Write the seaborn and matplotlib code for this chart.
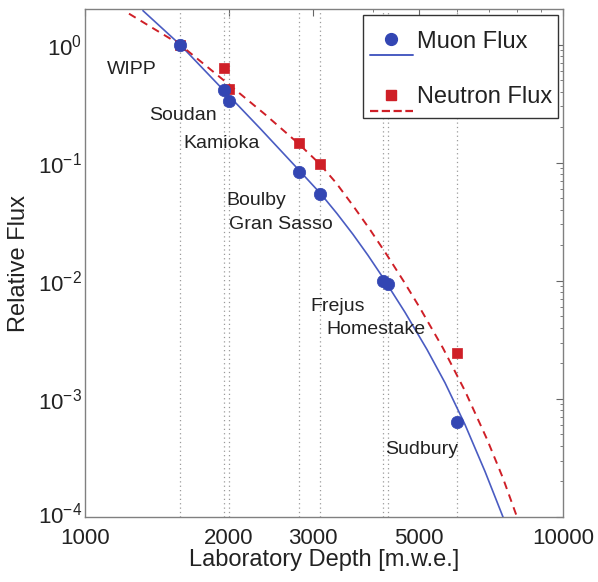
import numpy as np
import pandas as pd
import seaborn as sns
import matplotlib
matplotlib.use("Agg")
import matplotlib.pyplot as plt
import matplotlib.transforms as mtransforms
from matplotlib.lines import Line2D
from matplotlib.patches import Rectangle
from matplotlib.legend_handler import HandlerBase
from matplotlib.ticker import FixedLocator, NullFormatter, LogLocator

# ---------------- data ----------------
labs = ["WIPP", "Soudan", "Kamioka", "Boulby", "Gran Sasso", "Frejus", "Homestake", "Sudbury"]
depth = [1580, 1950, 2000, 2800, 3100, 4200, 4300, 6000]
muon_flux = [1.0, 0.415, 0.33, 0.084, 0.0545, 0.0100, 0.0094, 6.4e-4]
neutron_flux = [1.0, 0.63, 0.42, 0.147, 0.0966, np.nan, np.nan, 0.00243]

muon_curve_depth = [1322, 1580, 1916, 2323, 2791, 3117, 3367, 3636, 3908, 4202, 4671,
                    5194, 5664, 6237, 6868, 7490]
muon_curve_flux = [1.936, 1.0, 0.442, 0.1955, 0.0881, 0.0542, 0.03705, 0.02472, 0.01644,
                   0.01062, 0.005412, 0.002617, 0.00137, 6.06e-4, 2.43e-4, 1.0e-4]
neutron_curve_depth = [1236, 1580, 2011, 2380, 2791, 3087, 3350, 3636, 3947, 4283, 4649,
                       5022, 5610, 6237, 6934, 7490, 8013]
neutron_curve_flux = [1.826, 1.0, 0.4508, 0.2566, 0.1461, 0.099, 0.06767, 0.04329, 0.0271,
                      0.01651, 0.009807, 0.005872, 0.002689, 0.001168, 4.56e-4, 2.13e-4, 1.0e-4]

x_ticks = [1000, 2000, 3000, 5000, 10000]
x_ticklabels = ["1000", "2000", "3000", "5000", "10000"]
y_ticks = [1e-4, 1e-3, 1e-2, 1e-1, 1e0]
y_ticklabels = [r"$10^{-4}$", r"$10^{-3}$", r"$10^{-2}$", r"$10^{-1}$", r"$10^{0}$"]

# label positions (axes fraction)
label_pos = [(0.046, 0.880), (0.134, 0.791), (0.205, 0.736), (0.295, 0.624),
             (0.301, 0.575), (0.471, 0.415), (0.506, 0.370), (0.628, 0.132)]

BLUE_M = "#3346b3"
BLUE_L = "#4a5cc2"
RED = "#cf1f27"

sns.set_theme(style="white")
plt.rcParams['font.family'] = ['Liberation Sans', 'DejaVu Sans']
plt.rcParams['mathtext.fontset'] = 'custom'
plt.rcParams['mathtext.rm'] = 'Liberation Sans'
plt.rcParams['mathtext.it'] = 'Liberation Sans'

fig = plt.figure(figsize=(5.98, 5.82), dpi=100)
ax = fig.add_axes([85/598, 1-517/582, (563-85)/598, (517-9)/582])
ax.set_xscale("log")
ax.set_yscale("log")

for d in depth:
    ax.axvline(d, color="#9a9a9a", linestyle=(0, (1, 2.5)), linewidth=0.9, zorder=1)

pts = pd.DataFrame({"lab": labs, "depth": depth, "muon": muon_flux, "neutron": neutron_flux})
mc = pd.DataFrame({"depth": muon_curve_depth, "flux": muon_curve_flux})
nc = pd.DataFrame({"depth": neutron_curve_depth, "flux": neutron_curve_flux})

sns.lineplot(data=mc, x="depth", y="flux", ax=ax, color=BLUE_L, linewidth=1.2,
             sort=False, estimator=None, zorder=3)
sns.lineplot(data=nc, x="depth", y="flux", ax=ax, color=RED, linewidth=1.4,
             sort=False, estimator=None, zorder=3)
ax.lines[-1].set_linestyle((0, (4, 3)))
sns.scatterplot(data=pts, x="depth", y="neutron", ax=ax, marker="s", s=55, color=RED,
                edgecolor=RED, linewidth=0.5, zorder=4)
sns.scatterplot(data=pts, x="depth", y="muon", ax=ax, marker="o", s=80, color=BLUE_M,
                edgecolor=BLUE_M, linewidth=0.5, zorder=5)

for name, (px, py) in zip(labs, label_pos):
    ax.text(px, py, name, transform=ax.transAxes, ha="left", va="center",
            fontsize=14, color="#222222")

ax.set_xlim(1000, 10000)
ax.set_ylim(1e-4, 2)
ax.xaxis.set_major_locator(FixedLocator(x_ticks))
ax.set_xticklabels(x_ticklabels)
ax.xaxis.set_minor_locator(FixedLocator([4000, 6000, 7000, 8000, 9000]))
ax.xaxis.set_minor_formatter(NullFormatter())
ax.yaxis.set_major_locator(FixedLocator(y_ticks))
ax.set_yticklabels(y_ticklabels)
ax.yaxis.set_minor_locator(LogLocator(base=10, subs=np.arange(2, 10), numticks=20))
ax.yaxis.set_minor_formatter(NullFormatter())

ax.tick_params(axis="both", which="both", direction="in", top=True, right=True,
               color="#666666", labelsize=16, labelcolor="#222222")
ax.tick_params(which="major", length=5, width=0.8)
ax.tick_params(axis="y", which="major", pad=2)
ax.tick_params(axis="x", which="major", pad=8)
ax.tick_params(which="minor", length=2.5, width=0.6)
for s in ax.spines.values():
    s.set_color("#808080")
    s.set_linewidth(1.0)

# lift the lowest y tick label slightly so it just touches the "1000" label
lab0 = ax.get_yticklabels()[0]
lab0.set_transform(lab0.get_transform() +
                   mtransforms.ScaledTranslation(0, 4/100, fig.dpi_scale_trans))

ax.set_xlabel("Laboratory Depth [m.w.e.]", fontsize=17, color="#222222", labelpad=0)
ax.set_ylabel("Relative Flux", fontsize=17, color="#222222", labelpad=6)


class MarkerAboveLine(HandlerBase):
    def create_artists(self, legend, orig_handle, xdescent, ydescent, width, height,
                       fontsize, trans):
        mk, ln = orig_handle
        yc = 0.36 * fontsize
        x0 = -xdescent
        line = Line2D([x0, x0 + width], [yc - 0.68 * fontsize] * 2, color=ln.get_color(),
                      linestyle=ln.get_linestyle(), linewidth=ln.get_linewidth(),
                      transform=trans)
        m = Line2D([x0 + width / 2], [yc], linestyle="none", marker=mk.get_marker(),
                   markersize=mk.get_markersize(), color=mk.get_color(), transform=trans)
        return [line, m]


# legend frame
frame = Rectangle(((363-85)/478, (517-118)/508), (558-363)/478, (118-15)/508,
                  transform=ax.transAxes, facecolor="white", edgecolor="#333333",
                  linewidth=1.0, zorder=6)
ax.add_patch(frame)

h_mu = (Line2D([], [], marker="o", markersize=8.5, color=BLUE_M, linestyle="none"),
        Line2D([], [], color=BLUE_L, linewidth=1.4))
h_ne = (Line2D([], [], marker="s", markersize=7, color=RED, linestyle="none"),
        Line2D([], [], color=RED, linewidth=1.6, linestyle=(0, (4, 3))))
leg = ax.legend([h_mu, h_ne], ["Muon Flux", "Neutron Flux"],
                handler_map={tuple: MarkerAboveLine()},
                loc="upper left", bbox_to_anchor=((370-85)/478, (517-30.5)/508),
                borderaxespad=0, fontsize=17, frameon=False,
                handlelength=1.8, handletextpad=0.17, labelspacing=1.42,
                borderpad=0)
leg.set_zorder(7)
for t in leg.get_texts():
    t.set_color("#222222")

fig.savefig("out.png", dpi=100)
